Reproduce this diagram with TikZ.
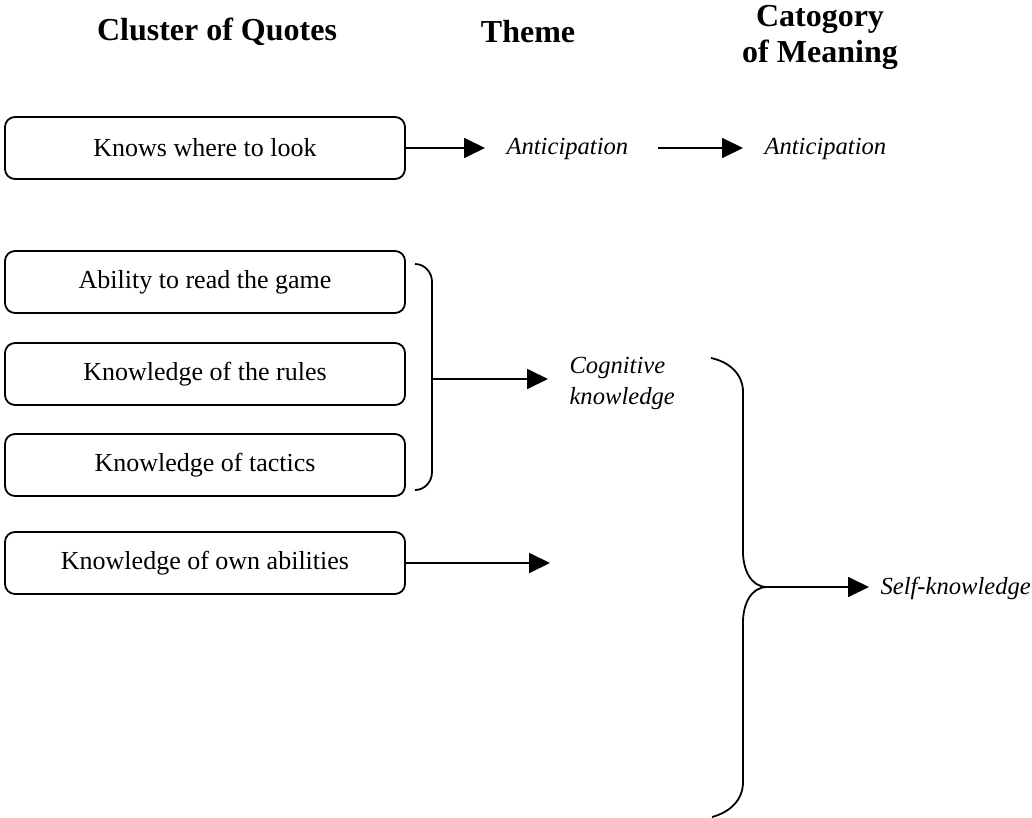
\documentclass[tikz,border=0pt]{standalone}
\usepackage{fontspec}
\setmainfont{Liberation Serif}
\usepackage{tikz}
\usetikzlibrary{arrows.meta}

\begin{document}
\begin{tikzpicture}[x=0.5pt, y=-0.5pt, line width=0.9pt,
  font=\fontsize{13}{15.5}\selectfont,
  heading/.style={align=center, font=\fontsize{16}{18}\selectfont\bfseries},
  quote/.style={draw, align=center, rounded corners=5pt, minimum width=200pt, minimum height=31pt},
  theme/.style={anchor=west, align=left, font=\fontsize{12.3}{15.5}\selectfont\itshape},
  transfer/.style={-{Triangle[length=10.5pt, width=10pt]}, shorten >=7pt},
]
\useasboundingbox (0,0) rectangle (1032,818);

\node[heading] (clusterhead) at (217,32) {Cluster of Quotes};
\node[heading] (themehead) at (528,32) {Theme};
\node[heading] (categoryhead) at (820,37) {Catogory\\of Meaning};

\node[quote] (knows) at (205,148) {Knows where to look};
\node[quote] (readgame) at (205,282) {Ability to read the game};
\node[quote] (rules) at (205,374) {Knowledge of the rules};
\node[quote] (tactics) at (205,465) {Knowledge of tactics};
\node[quote] (ownabil) at (205,563) {Knowledge of own abilities};

\node[theme] (anticip1) at (499,149) {Anticipation};
\node[theme] (anticip2) at (757,149) {Anticipation};
\node[theme] (cognitive) at (562,383) {Cognitive\\knowledge};
\node[theme] (selfknow) at (873,588) {Self-knowledge};

% brackets
\coordinate (bracket) at (432,379);
\coordinate (owntip) at (564,563);
\coordinate (cusp) at (767,587);
\draw (415,264) to[out=0, in=90] (432,282) -- (432,472) to[out=-90, in=0] (415,490);
\draw (711,358) to[out=-12, in=90] (743,392) -- (743,552) to[out=-90, in=180] (cusp)
  to[out=180, in=90] (743,622) -- (743,782) to[out=-90, in=15] (712,817);

\draw[transfer] (knows) -- (knows -| anticip1.west);
\draw[transfer, shorten <=11pt] (knows -| anticip1.east) -- (knows -| anticip2.west);
\draw[transfer] (bracket) -- (bracket -| cognitive.west);
\draw[transfer] (ownabil) -- (owntip);
\draw[transfer, shorten >=2pt] (cusp) -- (cusp -| selfknow.west);
\end{tikzpicture}
\end{document}
